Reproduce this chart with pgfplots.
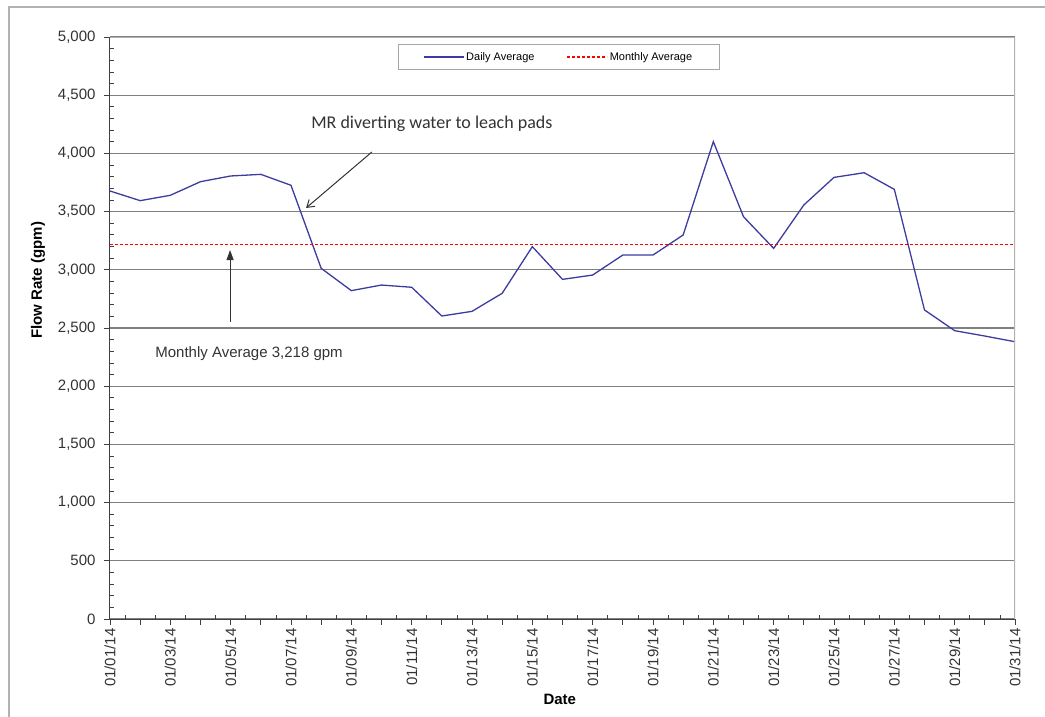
\documentclass[border=0pt]{standalone}
\usepackage{pgfplots}
\pgfplotsset{compat=1.18}
\usepackage{fontspec}
\setmainfont{Liberation Sans}
\newfontfamily\carlito{Carlito}
\usetikzlibrary{arrows.meta}
\definecolor{navy}{RGB}{60,60,160}
\pgfplotsset{
  longline/.style={legend image code/.code={\draw[##1] (0bp,0bp) -- (40bp,0bp);}},
}
\begin{document}
\begin{tikzpicture}
\useasboundingbox (-110bp,-98bp) rectangle (935bp,619bp);
\draw[gray!60, line width=1.2bp] (-101bp,-98bp) -- (-101bp,612bp) -- (935bp,612bp);
\begin{axis}[at={(0,0)}, anchor=south west, scale only axis, width=905bp, height=582bp,
  xmin=1, xmax=31, ymin=0, ymax=5000,
  axis x line*=bottom, axis y line*=left,
  axis line style={gray!50!black, line width=1bp},
  ytick={0,500,...,5000}, minor y tick num=4,
  xtick={1,...,31}, minor x tick num=1,
  xticklabels={01/01/14,,01/03/14,,01/05/14,,01/07/14,,01/09/14,,01/11/14,,01/13/14,,01/15/14,,01/17/14,,01/19/14,,01/21/14,,01/23/14,,01/25/14,,01/27/14,,01/29/14,,01/31/14},
  tick align=outside, major tick length=6bp, minor tick length=-4bp,
  tick style={gray!50!black, line width=0.8bp},
  /pgf/number format/assume math mode=true,
  /pgf/number format/1000 sep={,},
  yticklabel style={font=\fontsize{15bp}{18bp}\selectfont, text=black!80, xshift=-5bp},
  xticklabel style={font=\fontsize{15bp}{18bp}\selectfont, text=black!80, rotate=90, anchor=east},
  ymajorgrids, major grid style={gray, line width=1.2bp},
  xlabel={Date}, ylabel={Flow Rate (gpm)},
  xlabel style={font=\bfseries\fontsize{15bp}{18bp}\selectfont, at={(axis description cs:0.497,-0.139)}, anchor=center},
  ylabel style={font=\bfseries\fontsize{15bp}{18bp}\selectfont, at={(axis description cs:-0.0796,0.582)}, anchor=center},
  legend style={at={(axis description cs:0.4956,0.988)}, anchor=north, legend columns=2,
    draw=gray!70, inner xsep=25bp, inner ysep=6bp,
    font=\fontsize{11bp}{13bp}\selectfont,
    /tikz/every even column/.append style={column sep=30bp}},
]
\addplot[draw=navy, line width=1.3bp, longline] coordinates {
(1,3677) (2,3594) (3,3640) (4,3757) (5,3806) (6,3820) (7,3726) (8,3013)
(9,2821) (10,2869) (11,2850) (12,2603) (13,2643) (14,2798) (15,3199)
(16,2918) (17,2955) (18,3127) (19,3127) (20,3299) (21,4101) (22,3456)
(23,3184) (24,3557) (25,3794) (26,3834) (27,3691) (28,2655) (29,2477)
(30,2431) (31,2382)};
\addlegendentry{Daily Average}
\addplot[draw=red, line width=1.3bp, dash pattern=on 3bp off 2bp, longline] coordinates {(1,3218) (31,3218)};
\addlegendentry{Monthly Average}
\node[font=\carlito\fontsize{18bp}{20bp}\selectfont, text=black!80] at (axis cs:11.67,4253) {MR diverting water to leach pads};
\draw[black!80, line width=1bp, -{Straight Barb[length=7bp,width=9bp]}] (axis cs:9.68,4012) -- (axis cs:7.50,3531);
\node[font=\fontsize{15bp}{18bp}\selectfont, text=black!80] at (axis cs:5.61,2277) {Monthly Average 3,218 gpm};
\draw[black!80, line width=1bp, -{Triangle[length=10bp,width=7bp]}] (axis cs:4.98,2552) -- (axis cs:4.98,3170);
\draw[gray!60, line width=1.2bp] (rel axis cs:0,1) -- (rel axis cs:1,1) -- (rel axis cs:1,0);
\end{axis}
\end{tikzpicture}
\end{document}
